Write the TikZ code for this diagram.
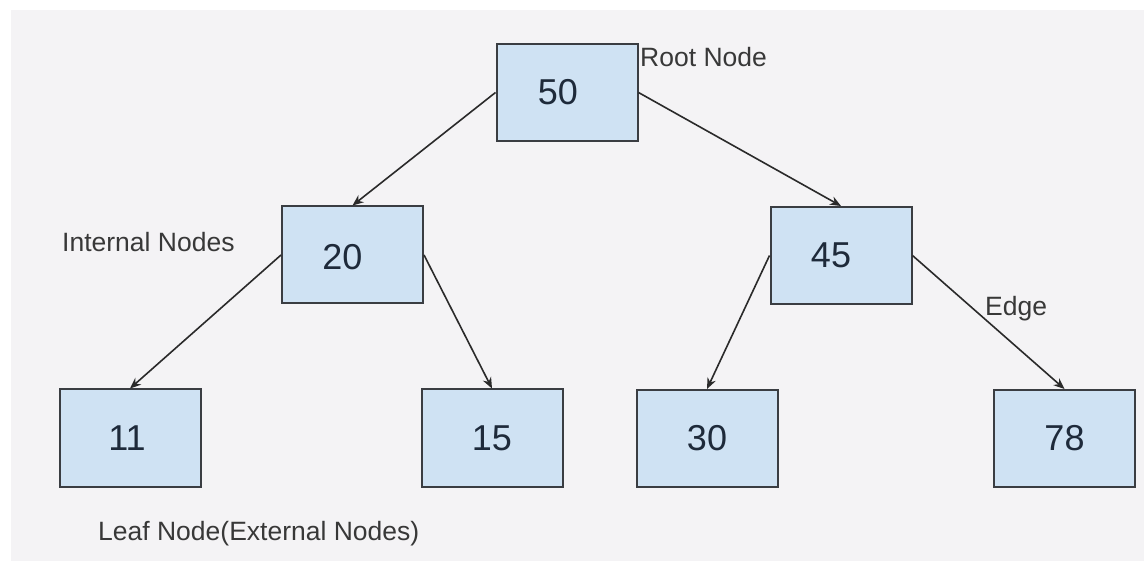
\documentclass[tikz,border=0pt]{standalone}
\usepackage{fontspec}
\setmainfont{Liberation Sans}
\usetikzlibrary{arrows.meta}

\definecolor{boxfill}{HTML}{CFE2F3}
\definecolor{boxline}{HTML}{3A3D42}
\definecolor{numcol}{HTML}{1E2A3A}
\definecolor{labelcol}{HTML}{383838}
\definecolor{edgecol}{HTML}{2A2A2A}
\definecolor{canvas}{HTML}{F4F3F5}

\tikzset{
  treebox/.style={draw=boxline, fill=boxfill, line width=2pt,
    minimum width=141pt, minimum height=97pt, inner sep=0pt},
  keytext/.style={inner sep=0pt, text=numcol,
    font=\fontsize{36}{40}\selectfont},
  caption/.style={inner sep=0pt, text=labelcol,
    font=\fontsize{26.5}{30}\selectfont},
  link/.style={draw=edgecol, line width=1.6pt,
    -{Stealth[length=11pt,width=9pt]}}
}

\begin{document}
\begin{tikzpicture}[x=1pt,y=-1pt]
  % page and canvas
  \useasboundingbox (0,0) rectangle (1144,561);
  \fill[white] (0,0) rectangle (1144,561);
  \fill[canvas] (11,10) rectangle (1144,561);

  % tree nodes (key placed a little off-centre in some boxes)
  \node[treebox, label={[keytext, xshift=-9pt]center:50}] (n50) at (567,92.5) {};
  \node[treebox, label={[keytext, xshift=-10pt, yshift=-2pt]center:20}] (n20) at (352.5,255) {};
  \node[treebox, label={[keytext, xshift=-10pt]center:45}] (n45) at (841,255.5) {};
  \node[treebox, label={[keytext, xshift=-3pt]center:11}] (n11) at (130,438) {};
  \node[treebox, label={[keytext]center:15}] (n15) at (492,438) {};
  \node[treebox, label={[keytext]center:30}] (n30) at (707,438.5) {};
  \node[treebox, label={[keytext]center:78}] (n78) at (1064.5,438.5) {};

  % edges
  \draw[link] (n50.west) -- (n20.north);
  \draw[link] (n50.east) -- (n45.north);
  \draw[link] (n20.west) -- (n11.north);
  \draw[link] (n20.east) -- (n15.north);
  \draw[link] (n45.west) -- (n30.north);
  \draw[link] (n45.east) -- (n78.north);

  % annotations
  \node[caption, anchor=base west] (lroot) at (640,67) {Root Node};
  \node[caption, anchor=base west] (linternal) at (62,252) {Internal Nodes};
  \node[caption, anchor=base west] (ledge) at (985,316) {Edge};
  \node[caption, anchor=base west] (lleaf) at (98,540) {Leaf Node(External Nodes)};
\end{tikzpicture}
\end{document}
